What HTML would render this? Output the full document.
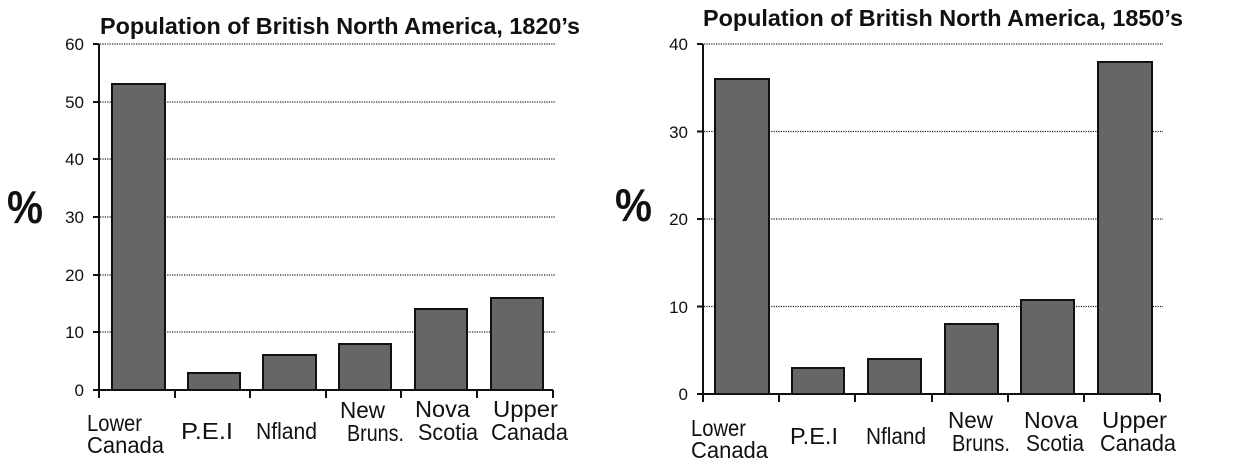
<!DOCTYPE html>
<html><head><meta charset="utf-8"><style>
html,body{margin:0;padding:0;background:#fff;}
svg{display:block;}
text{font-family:"Liberation Sans",sans-serif;fill:#111;}
.t{font-weight:bold;font-size:23px;}
.y{font-size:17px;text-anchor:end;}
.l{font-size:23px;}
.p{font-size:46px;font-weight:bold;}
.g{stroke:#222;stroke-width:1.3;stroke-dasharray:1.2 1.2;}
.b{fill:#666;stroke:#111;stroke-width:2;}
.a{stroke:#111;stroke-width:2;fill:none;}
</style></head><body>
<svg width="1236" height="472" viewBox="0 0 1236 472">
<text class="t" x="100" y="34" textLength="480" lengthAdjust="spacingAndGlyphs">Population of British North America, 1820’s</text>
<text class="p" x="7" y="223" textLength="36" lengthAdjust="spacingAndGlyphs">%</text>
<g>
<line class="g" x1="100" y1="44" x2="555" y2="44"/>
<line class="g" x1="100" y1="102" x2="555" y2="102"/>
<line class="g" x1="100" y1="159" x2="555" y2="159"/>
<line class="g" x1="100" y1="217" x2="555" y2="217"/>
<line class="g" x1="100" y1="275" x2="555" y2="275"/>
<line class="g" x1="100" y1="332" x2="555" y2="332"/>
</g>
<text class="y" x="84" y="50">60</text>
<text class="y" x="84" y="108">50</text>
<text class="y" x="84" y="165">40</text>
<text class="y" x="84" y="223">30</text>
<text class="y" x="84" y="281">20</text>
<text class="y" x="84" y="338">10</text>
<text class="y" x="84" y="396">0</text>
<rect class="b" x="112" y="84" width="53" height="306"/>
<rect class="b" x="188" y="373" width="52" height="17"/>
<rect class="b" x="263" y="355" width="53" height="35"/>
<rect class="b" x="339" y="344" width="52" height="46"/>
<rect class="b" x="415" y="309" width="52" height="81"/>
<rect class="b" x="491" y="298" width="52" height="92"/>
<path class="a" d="M99 44V398 M93 44H99 M93 102H99 M93 159H99 M93 217H99 M93 275H99 M93 332H99 M93 390H99 M99 390H553 M175 390V398 M250 390V398 M326 390V398 M401 390V398 M477 390V398 M553 390V398"/>
<text class="l" x="87" y="431" textLength="55" lengthAdjust="spacingAndGlyphs">Lower</text>
<text class="l" x="87" y="453" textLength="77" lengthAdjust="spacingAndGlyphs">Canada</text>
<text class="l" x="181" y="439" textLength="52" lengthAdjust="spacingAndGlyphs">P.E.I</text>
<text class="l" x="256" y="439" textLength="61" lengthAdjust="spacingAndGlyphs">Nfland</text>
<text class="l" x="340" y="418" textLength="45" lengthAdjust="spacingAndGlyphs">New</text>
<text class="l" x="347" y="441" textLength="57" lengthAdjust="spacingAndGlyphs">Bruns.</text>
<text class="l" x="415" y="417" textLength="55" lengthAdjust="spacingAndGlyphs">Nova</text>
<text class="l" x="418" y="440" textLength="60" lengthAdjust="spacingAndGlyphs">Scotia</text>
<text class="l" x="493" y="417" textLength="65" lengthAdjust="spacingAndGlyphs">Upper</text>
<text class="l" x="491" y="440" textLength="77" lengthAdjust="spacingAndGlyphs">Canada</text>

<text class="t" x="703" y="26" textLength="480" lengthAdjust="spacingAndGlyphs">Population of British North America, 1850’s</text>
<text class="p" x="615" y="221" textLength="37" lengthAdjust="spacingAndGlyphs">%</text>
<g>
<line class="g" x1="704" y1="44" x2="1163" y2="44"/>
<line class="g" x1="704" y1="131.5" x2="1163" y2="131.5"/>
<line class="g" x1="704" y1="219" x2="1163" y2="219"/>
<line class="g" x1="704" y1="306.5" x2="1163" y2="306.5"/>
</g>
<text class="y" x="688" y="50">40</text>
<text class="y" x="688" y="138">30</text>
<text class="y" x="688" y="225">20</text>
<text class="y" x="688" y="313">10</text>
<text class="y" x="688" y="400">0</text>
<rect class="b" x="715" y="79" width="54" height="315"/>
<rect class="b" x="792" y="368" width="52" height="26"/>
<rect class="b" x="868" y="359" width="53" height="35"/>
<rect class="b" x="945" y="324" width="53" height="70"/>
<rect class="b" x="1021" y="300" width="53" height="94"/>
<rect class="b" x="1098" y="62" width="54" height="332"/>
<path class="a" d="M703 44V402 M697 44H703 M697 131.5H703 M697 219H703 M697 306.5H703 M697 394H703 M703 394H1160 M779 394V402 M855 394V402 M932 394V402 M1008 394V402 M1084 394V402 M1160 394V402"/>
<text class="l" x="691" y="436" textLength="55" lengthAdjust="spacingAndGlyphs">Lower</text>
<text class="l" x="691" y="458" textLength="77" lengthAdjust="spacingAndGlyphs">Canada</text>
<text class="l" x="790" y="444" textLength="48" lengthAdjust="spacingAndGlyphs">P.E.I</text>
<text class="l" x="866" y="444" textLength="60" lengthAdjust="spacingAndGlyphs">Nfland</text>
<text class="l" x="948" y="428" textLength="45" lengthAdjust="spacingAndGlyphs">New</text>
<text class="l" x="952" y="451" textLength="58" lengthAdjust="spacingAndGlyphs">Bruns.</text>
<text class="l" x="1024" y="428" textLength="54" lengthAdjust="spacingAndGlyphs">Nova</text>
<text class="l" x="1026" y="451" textLength="58" lengthAdjust="spacingAndGlyphs">Scotia</text>
<text class="l" x="1102" y="428" textLength="65" lengthAdjust="spacingAndGlyphs">Upper</text>
<text class="l" x="1100" y="451" textLength="76" lengthAdjust="spacingAndGlyphs">Canada</text>
</svg>
</body></html>
